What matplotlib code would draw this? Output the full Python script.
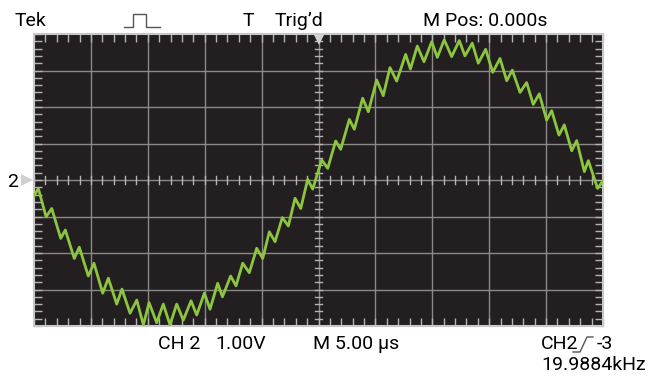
import numpy as np
import matplotlib.pyplot as plt
from matplotlib.lines import Line2D

plt.rcParams['font.family'] = ['Roboto', 'DejaVu Sans']

# Trace vertices (time in us, voltage in V)
t_us = [-25.00, -24.62, -23.94, -23.44, -22.65, -22.25, -21.46, -21.02, -20.23, -19.73,
        -18.96, -18.47, -17.73, -17.27, -16.56, -15.97, -15.39, -14.89, -14.22, -13.64,
        -13.05, -12.46, -11.88, -11.20, -10.70, -10.03, -9.53, -8.86, -8.44, -7.72,
        -7.25, -6.66, -6.08, -5.43, -4.90, -4.32, -3.82, -3.18, -2.65, -2.06,
        -1.56, -0.95, -0.51, 0.28, 0.81, 1.51, 1.95, 2.71, 3.15, 3.88,
        4.38, 5.11, 5.69, 6.28, 6.87, 7.66, 8.08, 8.68, 9.27, 9.95,
        10.44, 11.05, 11.70, 12.37, 12.87, 13.51, 14.04, 14.69, 15.31, 15.95,
        16.54, 17.03, 17.71, 18.29, 18.87, 19.40, 20.05, 20.49, 21.13, 21.60,
        22.25, 22.69, 23.36, 23.71, 24.53, 25.00]
volts = [-0.44, -0.23, -1.01, -0.78, -1.60, -1.37, -2.15, -1.84, -2.63, -2.28,
         -3.10, -2.69, -3.40, -2.99, -3.65, -3.29, -3.97, -3.36, -3.91, -3.40,
         -3.97, -3.40, -3.84, -3.31, -3.70, -3.10, -3.54, -2.83, -3.20, -2.63,
         -2.90, -2.28, -2.54, -1.87, -2.15, -1.42, -1.69, -1.03, -1.26, -0.50,
         -0.78, 0.02, -0.25, 0.55, 0.32, 1.07, 0.84, 1.66, 1.39, 2.24,
         1.87, 2.74, 2.31, 3.08, 2.71, 3.44, 3.04, 3.67, 3.24, 3.79,
         3.36, 3.84, 3.38, 3.82, 3.40, 3.75, 3.20, 3.58, 2.95, 3.33,
         2.72, 3.01, 2.40, 2.67, 2.07, 2.36, 1.64, 1.90, 1.23, 1.51,
         0.80, 1.08, 0.23, 0.53, -0.23, -0.02]

us_per_div = 5.0
v_per_div = 1.0

W, H = 651, 380
fig = plt.figure(figsize=(W / 100, H / 100), dpi=100)
fig.patch.set_facecolor('white')

# screen area in pixels: x 34..603, y 34..326
ax = fig.add_axes([34 / W, 1 - 326 / H, 569 / W, 292 / H])
ax.set_facecolor('#231f20')
ax.set_xlim(-5 * us_per_div, 5 * us_per_div)
ax.set_ylim(-4 * v_per_div, 4 * v_per_div)

grid_col = '#8a8a8a'
tick_col = '#b4b4b4'
for i in range(-4, 5):
    ax.axvline(i * us_per_div, color=grid_col, lw=1, zorder=1)
for j in range(-3, 4):
    ax.axhline(j * v_per_div, color=grid_col, lw=1, zorder=1)

# edge ticks (5 per division)
ax.set_xticks(np.arange(-25, 25.1, us_per_div / 5))
ax.set_yticks(np.arange(-4, 4.01, v_per_div / 5))
ax.tick_params(direction='in', length=5.5, width=1, color=tick_col,
               top=True, right=True, labelbottom=False, labelleft=False)

# ticks on the centre cross
xt = np.arange(-25, 25.1, us_per_div / 5)
yt = np.arange(-4, 4.01, v_per_div / 5)
dv = 0.1 * v_per_div
dt = 0.32
for x in xt:
    ax.plot([x, x], [-dv, dv], color=tick_col, lw=1, zorder=2)
for y in yt:
    ax.plot([-dt, dt], [y, y], color=tick_col, lw=1, zorder=2)

for s in ax.spines.values():
    s.set_color('#c8c8c8')
    s.set_linewidth(1.5)

ax.plot(t_us, volts, color='#8cc63f', lw=2, zorder=3)

# trigger position marker and channel 2 ground marker
ax.plot(0, 3.86, marker='v', color='#d0d0d0', ms=8, mew=0, zorder=4)
ax.plot(-25.6, 0, marker='>', color='#d0d0d0', ms=9, mew=0, clip_on=False, zorder=4)


def px(x, y):
    return x / W, 1 - y / H


fs = 14
fig.text(*px(15, 21), 'Tek', fontsize=fs, va='center', ha='left')
fig.text(*px(243, 21), 'T', fontsize=fs, va='center', ha='left')
fig.text(*px(275, 21), 'Trig\u2019d', fontsize=fs, va='center', ha='left')
fig.text(*px(423, 21), 'M Pos: 0.000s', fontsize=fs, va='center', ha='left')
fig.text(*px(13, 182), '2', fontsize=fs, va='center', ha='center')
fig.text(*px(158, 344), 'CH 2', fontsize=fs, va='center', ha='left')
fig.text(*px(215, 344), '1.00V', fontsize=fs, va='center', ha='left')
fig.text(*px(313, 344), 'M 5.00 \u00b5s', fontsize=fs, va='center', ha='left')
fig.text(*px(541, 344), 'CH2', fontsize=fs, va='center', ha='left')
fig.text(*px(597, 344), '-3', fontsize=fs, va='center', ha='left')
fig.text(*px(541, 365), '19.9884kHz', fontsize=fs, va='center', ha='left')

# pulse glyph and rising-edge glyph
pulse_x = [124, 133, 133, 146, 146, 160]
pulse_y = [27, 27, 14, 14, 27, 27]
fig.add_artist(Line2D([x / W for x in pulse_x], [1 - y / H for y in pulse_y],
                      color='#555555', lw=1))
edge_x = [573, 580, 587, 593]
edge_y = [352, 352, 337, 337]
fig.add_artist(Line2D([x / W for x in edge_x], [1 - y / H for y in edge_y],
                      color='#555555', lw=1))

fig.savefig('out.png', dpi=100)
